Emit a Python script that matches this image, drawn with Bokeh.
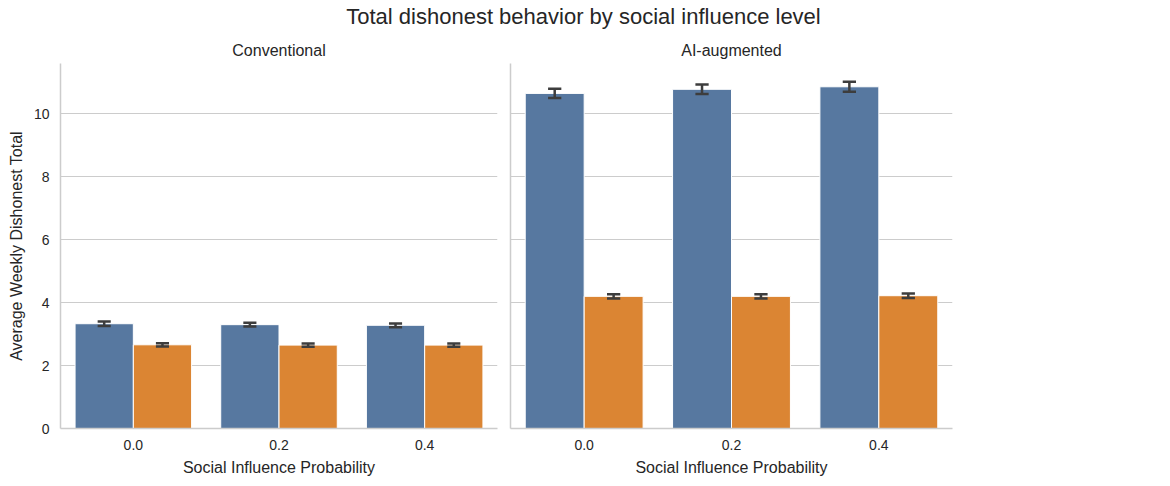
from bokeh.plotting import figure
from bokeh.models import ColumnDataSource, FixedTicker, Legend, LegendItem, Div, Range1d
from bokeh.layouts import row, column
from bokeh.embed import file_html
from bokeh.resources import INLINE

probs = ["0.0", "0.2", "0.4"]
panels = ["Conventional", "AI-augmented"]
series = ["No intervention", "Active intervention"]
colors = ["#5778a0", "#db8533"]
conv_none = [3.33, 3.30, 3.28]
conv_none_err = [0.07, 0.06, 0.06]
conv_active = [2.66, 2.65, 2.65]
conv_active_err = [0.05, 0.05, 0.05]
ai_none = [10.65, 10.78, 10.86]
ai_none_err = [0.15, 0.15, 0.16]
ai_active = [4.20, 4.20, 4.22]
ai_active_err = [0.07, 0.07, 0.07]

FONT = "Liberation Sans"

def make(title, data, left):
    p = figure(output_backend="svg", toolbar_location=None,
               frame_width=437 if left else 442, frame_height=365,
               x_range=Range1d(-0.5, 2.5), y_range=Range1d(0, 11.6),
               min_border_left=60 if left else 8, min_border_right=5 if left else 10,
               min_border_top=26, min_border_bottom=57)
    p.title.text = title
    p.title.align = "center"
    p.title.text_font = FONT
    p.title.text_font_size = "16px"
    p.title.text_font_style = "normal"
    p.title.text_color = "#262626"
    renderers = []
    xs = [0, 1, 2]
    for k, (vals, errs) in enumerate(data):
        off = -0.2 if k == 0 else 0.2
        x = [xi + off for xi in xs]
        src = ColumnDataSource(dict(x=x, top=vals, lo=[v - e for v, e in zip(vals, errs)],
                                    hi=[v + e for v, e in zip(vals, errs)],
                                    x0=[xi - 0.045 for xi in x], x1=[xi + 0.045 for xi in x]))
        r = p.vbar(x="x", top="top", width=0.4, source=src, fill_color=colors[k],
                   line_color="white", line_width=1)
        renderers.append(r)
        p.segment(x0="x", x1="x", y0="lo", y1="hi", source=src, line_color="#3d3d3d", line_width=2.5)
        p.segment(x0="x0", x1="x1", y0="lo", y1="lo", source=src, line_color="#3d3d3d", line_width=2.5)
        p.segment(x0="x0", x1="x1", y0="hi", y1="hi", source=src, line_color="#3d3d3d", line_width=2.5)
    p.xaxis.ticker = FixedTicker(ticks=[0, 1, 2])
    p.xaxis.major_label_overrides = {0: "0.0", 1: "0.2", 2: "0.4"}
    p.yaxis.ticker = FixedTicker(ticks=[0, 2, 4, 6, 8, 10])
    p.xaxis.axis_label = "Social Influence Probability"
    if left:
        p.yaxis.axis_label = "Average Weekly Dishonest Total"
    else:
        p.yaxis.major_label_overrides = {t: "" for t in [0, 2, 4, 6, 8, 10]}
    for ax in [p.xaxis[0], p.yaxis[0]]:
        ax.major_tick_line_color = None
        ax.minor_tick_line_color = None
        ax.axis_line_color = "#cccccc"
        ax.axis_line_width = 1.5
        ax.major_label_text_font = FONT
        ax.major_label_text_font_size = "14px"
        ax.major_label_text_color = "#262626"
        ax.axis_label_text_font = FONT
        ax.axis_label_text_font_size = "16px"
        ax.axis_label_text_font_style = "normal"
        ax.axis_label_text_color = "#262626"
        ax.axis_label_standoff = 6
    p.xgrid.grid_line_color = None
    p.ygrid.grid_line_color = "#cccccc"
    p.ygrid.grid_line_width = 1.2
    p.outline_line_color = None
    return p, renderers

p1, _ = make(panels[0], [(conv_none, conv_none_err), (conv_active, conv_active_err)], True)
p2, rs = make(panels[1], [(ai_none, ai_none_err), (ai_active, ai_active_err)], False)
leg = Legend(items=[LegendItem(label=series[i], renderers=[rs[i]]) for i in range(2)],
             title="Intervention", location="center", border_line_color=None,
             background_fill_alpha=0, label_text_font=FONT, label_text_font_size="14px",
             title_text_font=FONT, title_text_font_size="14px", title_text_font_style="normal",
             label_text_color="#262626", title_text_color="#262626",
             glyph_width=42, glyph_height=14, spacing=8, margin=6)
p2.add_layout(leg, "right")

title = Div(text="Total dishonest behavior by social influence level",
            styles={"font-family": FONT, "font-size": "22px", "color": "#262626",
                    "text-align": "center", "width": "1157px", "line-height": "24px"},
            width=1157, height=24)
layout = column(title, row(p1, p2, spacing=0), spacing=0)
open("out.html", "w").write(file_html(layout, INLINE))
